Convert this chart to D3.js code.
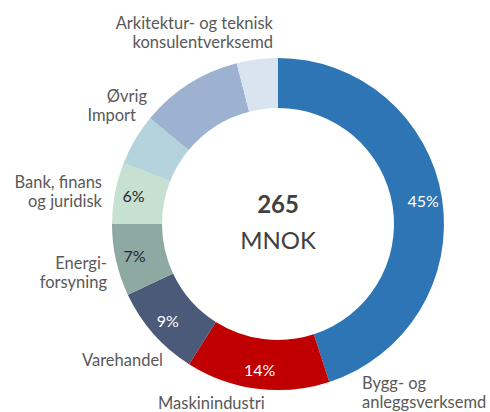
<!DOCTYPE html>
<html>
<head>
<meta charset="utf-8">
<script src="https://cdn.jsdelivr.net/npm/d3@7"></script>
<style>
  body { margin: 0; background: #fff; }
  #chart text { font-family: Lato, "Noto Sans", sans-serif; }
</style>
</head>
<body>
<div id="chart"></div>
<script>
// sectors, clockwise from 12 o'clock
var sectors = ["Bygg- og anleggsverksemd", "Maskinindustri", "Varehandel", "Energiforsyning",
  "Bank, finans og juridisk", "Import", "Øvrig", "Arkitektur- og teknisk konsulentverksemd"];
var shares = [45, 14, 9, 7, 6, 5, 10, 4];
var shareLabels = ["45%", "14%", "9%", "7%", "6%", "", "", ""];
var colors = ["#2e75b6", "#c00000", "#4a5a78", "#8ea9a2", "#c6e0d2", "#b5d3dc", "#9db1d1", "#dae3f0"];
var labelInk = ["#fff", "#fff", "#fff", "#262626", "#262626", "", "", ""];
var total = "265";
var unit = "MNOK";

var width = 490, height = 412;
var cx = 278, cy = 224, outerR = 166, innerR = 116;

var svg = d3.select("#chart").append("svg")
  .attr("width", width)
  .attr("height", height);

var g = svg.append("g")
  .attr("transform", "translate(" + cx + "," + cy + ")");

var pie = d3.pie().sort(null).value(function (d) { return d; });
var arcs = pie(shares);

var arc = d3.arc().innerRadius(innerR).outerRadius(outerR);
var labelArc = d3.arc().innerRadius(147).outerRadius(147);

g.selectAll(".slice")
  .data(arcs)
  .enter().append("path")
  .attr("class", "slice")
  .attr("d", arc)
  .attr("fill", function (d, i) { return colors[i]; });

// percentage labels inside the ring
g.selectAll(".pct")
  .data(arcs)
  .enter().append("text")
  .attr("class", "pct")
  .attr("transform", function (d) { return "translate(" + labelArc.centroid(d) + ")"; })
  .attr("text-anchor", "middle")
  .attr("dy", "0.36em")
  .style("font-size", "16px")
  .attr("fill", function (d, i) { return labelInk[i]; })
  .text(function (d, i) { return shareLabels[i]; });

// centre text
g.append("text")
  .attr("text-anchor", "middle")
  .attr("y", -11)
  .style("font-size", "24px")
  .style("font-weight", "bold")
  .attr("fill", "#404040")
  .text(total);
g.append("text")
  .attr("text-anchor", "middle")
  .attr("y", 25)
  .style("font-size", "24px")
  .attr("fill", "#404040")
  .text(unit);

// category labels outside the ring
var outside = [
  {lines: ["Arkitektur- og teknisk", "konsulentverksemd"], x: 273, y: 29, anchor: "end"},
  {lines: ["Øvrig"], x: 147, y: 102, anchor: "end"},
  {lines: ["Import"], x: 136, y: 121, anchor: "end"},
  {lines: ["Bank, finans", "og juridisk"], x: 102, y: 188, anchor: "end"},
  {lines: ["Energi-", "forsyning"], x: 107, y: 269, anchor: "end"},
  {lines: ["Varehandel"], x: 163, y: 366, anchor: "end"},
  {lines: ["Maskinindustri"], x: 158, y: 409, anchor: "start"},
  {lines: ["Bygg- og", "anleggsverksemd"], x: 362, y: 389, anchor: "start"}
];

var cat = svg.selectAll(".cat")
  .data(outside)
  .enter().append("text")
  .attr("class", "cat")
  .attr("text-anchor", function (d) { return d.anchor; })
  .style("font-size", "16.5px")
  .attr("fill", "#595959");

cat.selectAll("tspan")
  .data(function (d) { return d.lines.map(function (l, i) { return {t: l, x: d.x, y: d.y + i * 19}; }); })
  .enter().append("tspan")
  .attr("x", function (d) { return d.x; })
  .attr("y", function (d) { return d.y; })
  .text(function (d) { return d.t; });
</script>
</body>
</html>
